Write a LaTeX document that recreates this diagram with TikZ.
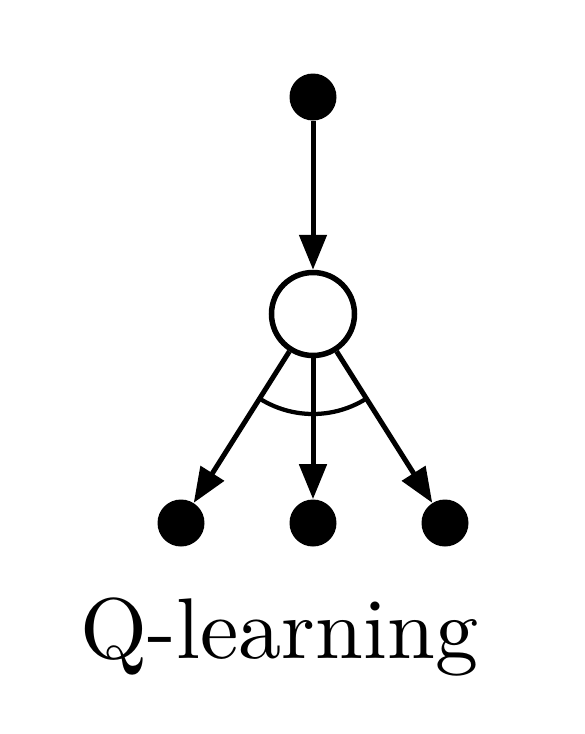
\documentclass[tikz,border=0pt]{standalone}
\usepackage{fontspec}
\newfontfamily\labelfont{lmroman10-regular}[Extension=.otf]
\usepackage{tikz}
\usetikzlibrary{positioning, arrows.meta}

\begin{document}
\begin{tikzpicture}[
    on grid,
    statedot/.style={circle, fill=black, inner sep=0pt, minimum size=0.94cm},
    actnode/.style={circle, draw, line width=0.11cm, fill=white, inner sep=0pt, minimum size=1.66cm},
    arr/.style={-{Triangle[length=0.7cm, width=0.54cm]}, line width=0.1cm}
]
    \useasboundingbox (0,0) rectangle (11.68,-14.68);

    \node[statedot] (s) at (6.26,-1.94) {};
    \node[actnode] (a) [below=4.34cm of s] {};
    \node[statedot] (s2) [below=4.18cm of a] {};
    \node[statedot] (s1) [left=2.64cm of s2] {};
    \node[statedot] (s3) [right=2.64cm of s2] {};

    \draw[arr] (s) -- (a);
    \draw[arr] (a) -- (s1);
    \draw[arr] (a) -- (s2);
    \draw[arr] (a) -- (s3);

    % max over the actions
    \draw[line width=0.085cm] (a.center) ++(237.7:2cm) arc (237.7:302.3:2cm);

    \node[anchor=base, inner sep=0pt] (label) at (5.59,-13.16) {\labelfont\fontsize{49}{58}\selectfont Q-learning};
\end{tikzpicture}
\end{document}
